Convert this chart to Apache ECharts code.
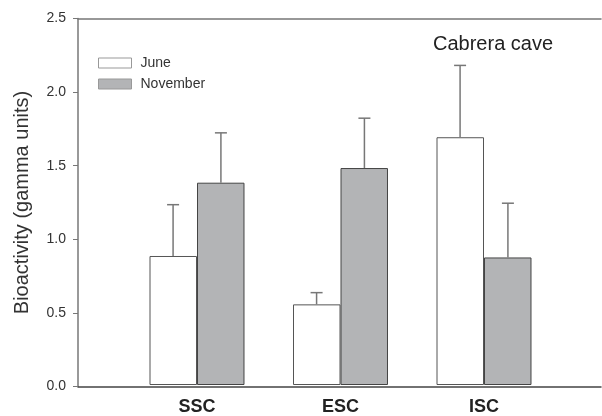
<!DOCTYPE html>
<html>
<head>
<meta charset="utf-8">
<script src="https://cdn.jsdelivr.net/npm/echarts@6/dist/echarts.min.js"></script>
<style>
  html, body { margin: 0; padding: 0; background: #fff; }
  #main { width: 602px; height: 416px; }
</style>
</head>
<body>
<div id="main"></div>
<script>
// data
const sites = ['SSC', 'ESC', 'ISC'];
const june = [0.88, 0.55, 1.69];
const juneErr = [1.23, 0.63, 2.18];       // top of error bar
const november = [1.38, 1.48, 0.87];
const novemberErr = [1.72, 1.82, 1.24];

const font = "'Liberation Sans', Arial, sans-serif";

let myChart = echarts.init(document.getElementById('main'));

// error bar data: [category index, bar value, error top, side(-1 june / +1 nov)]
let errData = [];
sites.forEach((s, i) => {
  errData.push([i, june[i], juneErr[i], -1]);
  errData.push([i, november[i], novemberErr[i], 1]);
});

myChart.setOption({
  animation: false,
  title: {
    text: 'Cabrera cave',
    left: 428,
    top: 29,
    textStyle: { fontFamily: font, fontSize: 20, fontWeight: 'normal', color: '#222' }
  },
  legend: {
    orient: 'vertical',
    left: 93,
    top: 51,
    itemWidth: 33,
    itemHeight: 10,
    itemGap: 7,
    icon: 'rect',
    itemStyle: { borderColor: '#999', borderWidth: 1 },
    textStyle: { fontFamily: font, fontSize: 14, color: '#333', padding: [0, 0, 0, 4] },
    data: ['June', 'November']
  },
  grid: [
    // frame with axes
    { left: 78, right: 1, top: 18.5, bottom: 29.5 },
    // bars
    { left: 125.25, width: 430.5, top: 18.5, bottom: 29.5 }
  ],
  xAxis: [
    {
      gridIndex: 0, type: 'value', min: 0, max: 1, position: 'bottom',
      axisLine: { show: true, onZero: false, lineStyle: { color: '#444', width: 1.5 } },
      axisTick: { show: false }, axisLabel: { show: false }, splitLine: { show: false }
    },
    {
      gridIndex: 0, type: 'value', min: 0, max: 1, position: 'top',
      axisLine: { show: true, onZero: false, lineStyle: { color: '#777', width: 1.5 } },
      axisTick: { show: false }, axisLabel: { show: false }, splitLine: { show: false }
    },
    {
      gridIndex: 1, type: 'category', data: sites,
      axisLine: { show: false }, axisTick: { show: false },
      axisLabel: { fontFamily: font, fontSize: 18, fontWeight: 'bold', color: '#222', margin: 13 }
    }
  ],
  yAxis: [
    {
      gridIndex: 0, type: 'value', min: 0, max: 2.5, interval: 0.5,
      name: 'Bioactivity (gamma units)',
      nameLocation: 'middle',
      nameGap: 46,
      nameTextStyle: { fontFamily: font, fontSize: 20, color: '#333' },
      axisLine: { show: true, lineStyle: { color: '#777', width: 1.5 } },
      axisTick: { show: true, length: 5, lineStyle: { color: '#777' } },
      axisLabel: {
        fontFamily: font, fontSize: 14, color: '#333', margin: 12,
        formatter: v => v.toFixed(1)
      },
      splitLine: { show: false }
    },
    {
      gridIndex: 1, type: 'value', min: 0, max: 2.5, interval: 0.5,
      show: false
    }
  ],
  series: [
    {
      name: 'June', type: 'bar', xAxisIndex: 2, yAxisIndex: 1,
      data: june, barWidth: '33.1%', barGap: '0%',
      itemStyle: { color: '#ffffff', borderColor: '#555', borderWidth: 1 }
    },
    {
      name: 'November', type: 'bar', xAxisIndex: 2, yAxisIndex: 1,
      data: november, barWidth: '33.1%', barGap: '0%',
      itemStyle: { color: '#b3b4b6', borderColor: '#444', borderWidth: 1 }
    },
    {
      type: 'custom', xAxisIndex: 2, yAxisIndex: 1, z: 5,
      data: errData,
      renderItem: function (params, api) {
        const band = api.size([1, 0])[0];
        const dx = api.value(3) * band / 6;
        const base = api.coord([api.value(0), api.value(1)]);
        const top = api.coord([api.value(0), api.value(2)]);
        const x = base[0] + dx;
        const style = { stroke: '#777', lineWidth: 1.5 };
        return {
          type: 'group',
          children: [
            { type: 'line', shape: { x1: x, y1: base[1], x2: x, y2: top[1] }, style: style },
            { type: 'line', shape: { x1: x - 6, y1: top[1], x2: x + 6, y2: top[1] }, style: style }
          ]
        };
      }
    }
  ]
});
</script>
</body>
</html>
